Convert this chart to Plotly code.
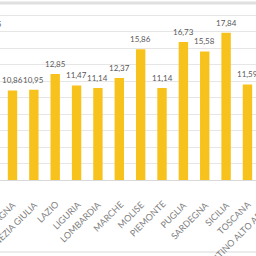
import plotly.graph_objects as go

categories = ["CAMPANIA", "EMILIA ROMAGNA", "FRIULI VENEZIA GIULIA", "LAZIO", "LIGURIA",
              "LOMBARDIA", "MARCHE", "MOLISE", "PIEMONTE", "PUGLIA", "SARDEGNA",
              "SICILIA", "TOSCANA", "TRENTINO ALTO ADIGE"]
values = [17.75, 10.86, 10.95, 12.85, 11.47, 11.14, 12.37, 15.86, 11.14, 16.73, 15.58,
          17.84, 11.59, None]

xpos = list(range(len(categories)))
x_range = [0.415, 12.40]
y_range = [0, 21.82]

FONT = "Lato"

fig = go.Figure()
fig.add_trace(go.Bar(
    x=xpos, y=values, width=0.44,
    marker=dict(color="#F8C21C", line=dict(width=0)),
    hoverinfo="skip",
))


def clamp(v):
    return min(max(v, x_range[0]), x_range[1])


annotations = []
# category labels under the axis (rotated)
for i, name in zip(xpos, categories):
    annotations.append(dict(
        x=clamp(i), y=0, xref="x", yref="y",
        ax=i, ay=0, axref="x", ayref="y",
        showarrow=True, arrowcolor="rgba(0,0,0,0)", arrowwidth=0.1, standoff=0,
        text=name, textangle=-45, xanchor="right", yanchor="top",
        xshift=-2, yshift=-16,
        font=dict(family=FONT, size=9, color="#7f7f7f"),
    ))
# value labels above the bars
for i, v in zip(xpos, values):
    if v is None:
        continue
    annotations.append(dict(
        x=clamp(i), y=v, xref="x", yref="y",
        ax=i, ay=v, axref="x", ayref="y",
        showarrow=True, arrowcolor="rgba(0,0,0,0)", arrowwidth=0.1, standoff=0,
        text=f"{v:.2f}".replace(".", ","), xanchor="center", yanchor="bottom",
        yshift=3,
        font=dict(family=FONT, size=8, color="#595959"),
    ))

fig.update_layout(
    width=256, height=256,
    margin=dict(l=0, r=0, t=0, b=76),
    paper_bgcolor="white", plot_bgcolor="white",
    showlegend=False,
    annotations=annotations,
    xaxis=dict(range=x_range, showticklabels=False, showgrid=False, zeroline=False,
               showline=False, ticks=""),
    yaxis=dict(range=y_range, dtick=2, showticklabels=False, gridcolor="#e6e6e6",
               gridwidth=1, zeroline=True, zerolinecolor="#d9d9d9", zerolinewidth=1,
               showline=False, ticks=""),
    shapes=[
        dict(type="line", xref="paper", yref="paper", x0=0, x1=1, y0=0.983, y1=0.983,
             line=dict(color="#e0e0e0", width=3)),
        dict(type="line", xref="paper", yref="paper", x0=0, x1=1, y0=-0.4, y1=-0.4,
             line=dict(color="#d9d9d9", width=1)),
    ],
)

fig.write_html("out.html")
